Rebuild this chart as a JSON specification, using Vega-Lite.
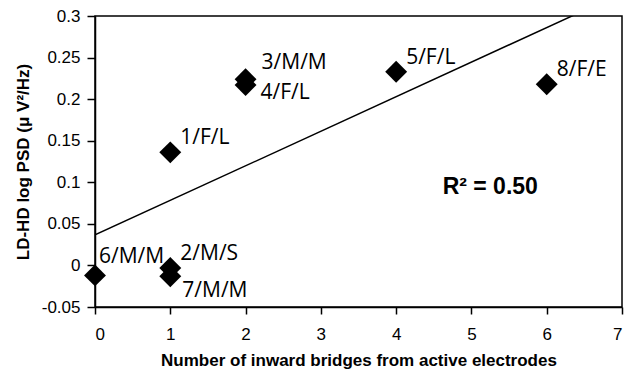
{
  "$schema": "https://vega.github.io/schema/vega-lite/v6.json",
  "width": 527,
  "height": 291,
  "autosize": "none",
  "padding": {"left": 95, "top": 16, "right": 7, "bottom": 67},
  "background": "white",
  "config": {
    "view": {"stroke": "black", "strokeWidth": 1.5},
    "axis": {
      "grid": false,
      "domainColor": "black",
      "domainWidth": 1.5,
      "tickColor": "black",
      "tickWidth": 1.5,
      "labelFont": "Liberation Sans",
      "labelFontSize": 17,
      "labelColor": "black",
      "titleFont": "Liberation Sans",
      "titleFontSize": 17,
      "titleFontWeight": "bold",
      "titleColor": "black"
    }
  },
  "data": {
    "values": [
      {"bridges": 0, "psd": -0.012, "label": "6/M/M"},
      {"bridges": 1, "psd": -0.003, "label": "2/M/S"},
      {"bridges": 1, "psd": -0.013, "label": "7/M/M"},
      {"bridges": 1, "psd": 0.136, "label": "1/F/L"},
      {"bridges": 2, "psd": 0.224, "label": "3/M/M"},
      {"bridges": 2, "psd": 0.217, "label": "4/F/L"},
      {"bridges": 4, "psd": 0.233, "label": "5/F/L"},
      {"bridges": 6, "psd": 0.218, "label": "8/F/E"}
    ]
  },
  "encoding": {
    "x": {
      "field": "bridges", "type": "quantitative",
      "scale": {"domain": [0, 7], "nice": false, "zero": false},
      "axis": {"values": [0,1,2,3,4,5,6,7], "tickSize": 7, "labelPadding": 12, "title": "Number of inward bridges from active electrodes", "titlePadding": 10}
    },
    "y": {
      "field": "psd", "type": "quantitative",
      "scale": {"domain": [-0.05, 0.3], "nice": false, "zero": false},
      "axis": {"values": [-0.05, 0, 0.05, 0.1, 0.15, 0.2, 0.25, 0.3], "labelExpr": "datum.value + ''", "tickSize": 8, "labelPadding": 7, "title": "LD-HD log PSD (μ V²/Hz)", "titlePadding": 9}
    }
  },
  "layer": [
    {
      "transform": [{"regression": "psd", "on": "bridges", "extent": [0, 7]}],
      "mark": {"type": "line", "color": "black", "strokeWidth": 1.5, "clip": true}
    },
    {
      "mark": {"type": "point", "shape": "diamond", "filled": true, "color": "black", "opacity": 1, "size": 480}
    },
    {
      "transform": [{"filter": {"field": "label", "oneOf": ["2/M/S", "1/F/L", "5/F/L", "8/F/E"]}}],
      "mark": {"type": "text", "align": "left", "baseline": "middle", "dx": 10, "dy": -14, "font": "Open Sans", "fontSize": 21, "color": "black"},
      "encoding": {"text": {"field": "label"}}
    },
    {
      "transform": [{"filter": {"field": "label", "equal": "6/M/M"}}],
      "mark": {"type": "text", "align": "left", "baseline": "middle", "dx": 4, "dy": -18, "font": "Open Sans", "fontSize": 21, "color": "black"},
      "encoding": {"text": {"field": "label"}}
    },
    {
      "transform": [{"filter": {"field": "label", "equal": "7/M/M"}}],
      "mark": {"type": "text", "align": "left", "baseline": "middle", "dx": 12, "dy": 15, "font": "Open Sans", "fontSize": 21, "color": "black"},
      "encoding": {"text": {"field": "label"}}
    },
    {
      "transform": [{"filter": {"field": "label", "equal": "3/M/M"}}],
      "mark": {"type": "text", "align": "left", "baseline": "middle", "dx": 16, "dy": -16, "font": "Open Sans", "fontSize": 21, "color": "black"},
      "encoding": {"text": {"field": "label"}}
    },
    {
      "transform": [{"filter": {"field": "label", "equal": "4/F/L"}}],
      "mark": {"type": "text", "align": "left", "baseline": "middle", "dx": 15, "dy": 8, "font": "Open Sans", "fontSize": 21, "color": "black"},
      "encoding": {"text": {"field": "label"}}
    },
    {
      "data": {"values": [{"bridges": 5.25, "psd": 0.094, "label": "R² = 0.50"}]},
      "mark": {"type": "text", "align": "center", "baseline": "middle", "font": "Liberation Sans", "fontSize": 23, "fontWeight": "bold", "color": "black"},
      "encoding": {"text": {"field": "label"}}
    }
  ]
}
